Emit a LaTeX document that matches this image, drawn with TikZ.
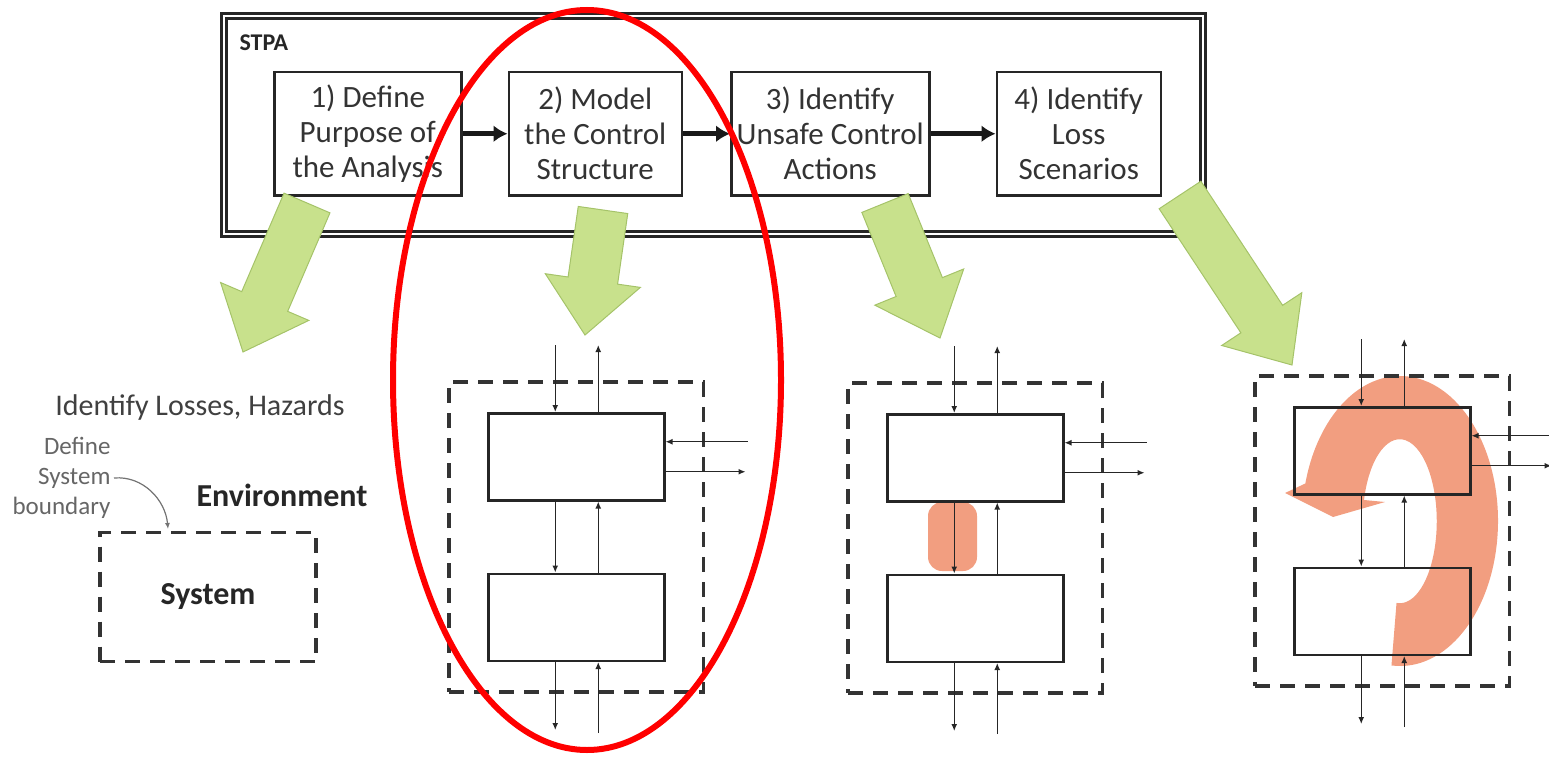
\documentclass[tikz,border=0pt]{standalone}
\usepackage{fontspec}
\setmainfont{Carlito}
\usepackage{xcolor}
\usetikzlibrary{positioning,fit,calc,arrows.meta}

\definecolor{leafgreen}{RGB}{200,225,140}
\definecolor{leafedge}{RGB}{165,195,105}
\definecolor{salmon}{RGB}{242,158,128}

% block arrow from tail #2 to tip #3, named #1
\newcommand{\greenarrow}[3]{%
  \coordinate (#1b) at ($(#3)!55pt!(#2)$);
  \filldraw[leaf] ($(#2)!25pt!90:(#3)$) -- ($(#1b)!25pt!90:(#3)$)
    -- ($(#1b)!48pt!90:(#3)$) -- (#3) -- ($(#1b)!48pt!-90:(#3)$)
    -- ($(#1b)!25pt!-90:(#3)$) -- ($(#2)!25pt!-90:(#3)$) -- cycle;}

\begin{document}
\begin{tikzpicture}[x=1pt,y=1pt]
\tikzset{>=latex}

\tikzset{
  frame/.style={draw=black!85, line width=2.5pt, double=white,
                double distance=2.5pt, inner sep=0pt},
  stage/.style={draw=black!85, line width=2.5pt, minimum height=123pt,
                align=center, inner sep=0pt, text=black!80,
                font=\fontsize{31}{35}\selectfont},
  flow/.style={-{Latex[length=14pt,width=17pt]}, line width=5pt, black!90},
  leaf/.style={fill=leafgreen, draw=leafedge, line width=1pt},
  ctl/.style={draw=black!85, line width=2.5pt, minimum width=176pt,
              minimum height=87pt, inner sep=0pt},
  bound/.style={draw=black!80, line width=3.5pt, dash pattern=on 15pt off 10pt},
  sig/.style={-{Latex[length=7pt,width=6pt]}, line width=1.3pt, black!85},
  hot/.style={fill=salmon},
  ring/.style={draw=red, line width=6pt}
}

\useasboundingbox (0,0) rectangle (1549,-757);

% STPA frame and steps
\node[frame, minimum width=979pt, minimum height=218pt] (stpa) at (713.5,-125) {};
\node[anchor=west, font=\fontsize{24}{28}\selectfont\bfseries, text=black!85]
  (tag) at (236,-43) {STPA};

\node[stage, minimum width=187pt, anchor=north west] (s1) at (273,-71)
  {1) Define\\Purpose of\\the Analysis};
\node[stage, minimum width=173pt, right=45pt of s1] (s2)
  {2) Model\\the Control\\Structure};
\node[stage, minimum width=198pt, right=47pt of s2] (s3)
  {3) Identify\\Unsafe Control\\Actions};
\node[stage, minimum width=164pt, right=65pt of s3] (s4)
  {4) Identify\\Loss\\Scenarios};

\draw[flow] (s1) -- (s2);
\draw[flow] (s2) -- (s3);
\draw[flow] (s3) -- (s4);

% green arrows down to each step's result
\coordinate (t1) at (307,-203); \coordinate (p1) at (243,-352);
\coordinate (t2) at (603,-210); \coordinate (p2) at (585,-335);
\coordinate (t3) at (885,-203); \coordinate (p3) at (940,-338);
\coordinate (t4) at (1180,-195); \coordinate (p4) at (1292,-365);
\greenarrow{g1}{t1}{p1}
\greenarrow{g2}{t2}{p2}
\greenarrow{g3}{t3}{p3}
\greenarrow{g4}{t4}{p4}

% step 1: losses, hazards, boundary
\node[font=\fontsize{30}{34}\selectfont, text=black!75] (haz) at (200,-407)
  {Identify Losses, Hazards};
\node[align=right, anchor=east, font=\fontsize{25}{30}\selectfont, text=black!60]
  (bnd) at (114,-478) {Define\\System\\boundary};
\node[font=\fontsize{32}{36}\selectfont\bfseries, text=black!85] (env) at (282,-495)
  {Environment};
\node[bound, minimum width=216pt, minimum height=129pt,
      font=\fontsize{32}{36}\selectfont\bfseries, text=black!85] (sys) at (208,-597)
  {System};
\coordinate (tick) at (168,-529);
\draw[-{Latex[length=6pt,width=5pt]}, line width=1.2pt, black!55]
  (bnd.east |- 0,-478) to[out=5, in=95] (tick);

% hazard highlights
\node[hot, minimum width=49pt, minimum height=69pt, rounded corners=14pt]
  (glow) at (952.5,-536.5) {};
\fill[hot] (1400,-521) ++(-95:98pt and 145pt)
  arc[start angle=-95, end angle=165, x radius=98pt, y radius=145pt]
  -- (1285,-493) -- (1333,-517) -- (1385,-502) -- (1364,-500)
  arc[start angle=165, end angle=-95, x radius=37pt, y radius=82pt] -- cycle;

% control structures
\foreach \n/\x/\y in {A/487/412, B/886/413, C/1293/406}{
  \node[ctl, anchor=north west] (up\n) at (\x,-\y) {};
  \node[ctl, below=71pt of up\n] (lo\n) {};
  \node[bound, fit=(up\n) (lo\n), inner xsep=38pt, inner ysep=30pt] (cs\n) {};
  \coordinate (tin\n)  at ($(up\n.north)+(-21,67)$);
  \coordinate (tout\n) at ($(up\n.north)+(22,67)$);
  \coordinate (bout\n) at ($(lo\n.south)+(-21,-68)$);
  \coordinate (bin\n)  at ($(lo\n.south)+(22,-71)$);
  \coordinate (rin\n)  at ($(up\n.east)+(82,15)$);
  \coordinate (rout\n) at ($(up\n.east)+(80,-15)$);
  \draw[sig] (tin\n) -- (tin\n |- up\n.north);
  \draw[sig] (tout\n |- up\n.north) -- (tout\n);
  \draw[sig] (tin\n |- up\n.south) -- (tin\n |- lo\n.north);
  \draw[sig] (tout\n |- lo\n.north) -- (tout\n |- up\n.south);
  \draw[sig] (bout\n |- lo\n.south) -- (bout\n);
  \draw[sig] (bin\n) -- (bin\n |- lo\n.south);
  \draw[sig] (rin\n) -- (rin\n -| up\n.east);
  \draw[sig] (rout\n -| up\n.east) -- (rout\n);
}

% focus on step 2
\draw[ring] (587,-380) ellipse[x radius=194pt, y radius=370pt];

\end{tikzpicture}
\end{document}
